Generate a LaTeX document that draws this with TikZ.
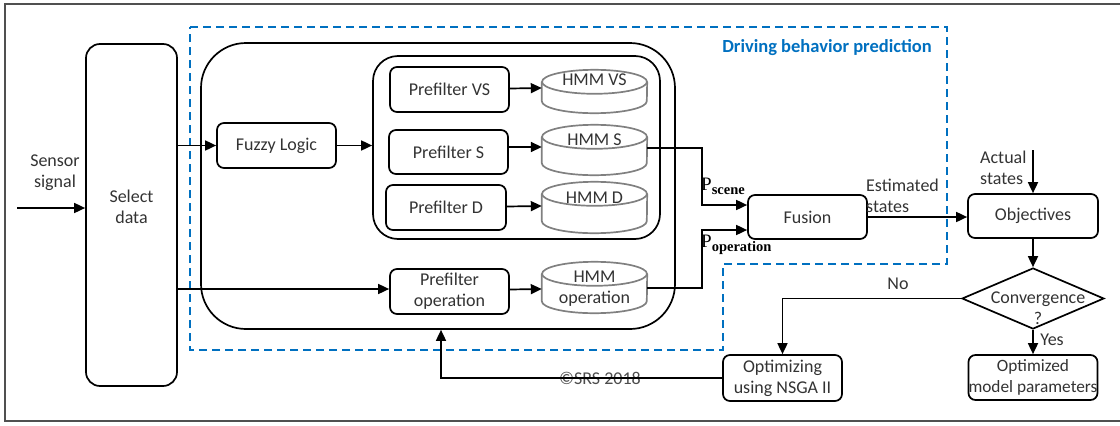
\documentclass[tikz,border=0pt]{standalone}
\usepackage{fontspec}
\setmainfont{Carlito}
\newfontfamily\serf{Liberation Serif}
\usetikzlibrary{arrows.meta,shapes.geometric}
\definecolor{txt}{HTML}{333333}
\definecolor{dashblue}{HTML}{0070C0}
\definecolor{cylgray}{HTML}{808080}
\definecolor{framegray}{HTML}{505050}

% cylinder outline drawn around a named (invisible) node
\newcommand\cylout[1]{%
  \draw[cylline] ([yshift=-12pt]#1.north west) -- ([yshift=12pt]#1.south west)
    arc[start angle=180, end angle=360, x radius=52.5pt, y radius=12pt]
    -- ([yshift=-12pt]#1.north east);
  \draw[cylline] ([yshift=-12pt]#1.north) ellipse[x radius=52.5pt, y radius=12pt];}

\begin{document}
\begin{tikzpicture}[x=1pt, y=-1pt,
  lbl/.style={text=txt, font=\fontsize{18}{21}\selectfont, align=center, inner sep=0},
  box/.style={draw, line width=1.7pt, rounded corners=7pt, inner sep=0, lbl},
  cyl/.style={inner sep=0, lbl},
  cylline/.style={draw=cylgray, line width=1.7pt},
  arr/.style={line width=1.7pt, -{Triangle[length=11pt, width=10pt]}},
  dia/.style={draw, diamond, line width=1.7pt, inner sep=0, minimum width=142pt, minimum height=61pt},
  pl/.style={inner sep=0, anchor=west, text=black}
]
\useasboundingbox (0,0) rectangle (1120,426);

% frame
\draw[framegray, line width=1.5pt] (1120,4) -- (5,4) -- (5,421) -- (1120,421);

% dashed region of the prediction stage
\draw[dashblue, line width=1.6pt, dash pattern=on 8pt off 5pt]
  (190,27) -- (947,27) -- (947,264) -- (723,264) -- (723,350) -- (190,350) -- cycle;
\node[inner sep=0, anchor=east, text=dashblue, font=\fontsize{18.5}{20}\selectfont\bfseries] (title) at (932,48) {Driving behavior prediction};

% containers
\node[draw, line width=1.7pt, rounded corners=45pt, minimum width=474pt, minimum height=286pt, inner sep=0] (outer) at (438,186) {};
\node[draw, line width=1.7pt, rounded corners=25pt, minimum width=287pt, minimum height=183pt, inner sep=0] (inner) at (516.5,147.5) {};

% input
\node[box, rounded corners=14pt, minimum width=91pt, minimum height=342pt] (sel) at (131.5,215) {};
\node[lbl] (seltxt) at (131.5,207) {Select\\data};
\node[lbl] (sensor) at (55,173) {Sensor\\signal};
\coordinate (sin) at (17,208);

% processing boxes
\node[box, minimum width=119pt, minimum height=45pt] (fz) at (276.5,145.5) {Fuzzy Logic};
\node[box, minimum width=119pt, minimum height=45pt] (pvs) at (449.5,89.5) {Prefilter VS};
\node[box, minimum width=119pt, minimum height=44pt] (ps) at (448.5,152) {Prefilter S};
\node[box, minimum width=120pt, minimum height=45pt] (pd) at (446,207.5) {Prefilter D};
\node[box, minimum width=119pt, minimum height=45pt] (pop) at (449.5,291.5) {Prefilter\\operation};

% HMM cylinders
\node[cyl, minimum width=105pt, minimum height=43pt] (hvs) at (594.5,91.5) {};
\node[cyl, minimum width=105pt, minimum height=50pt] (hs) at (594.5,150) {};
\node[cyl, minimum width=105pt, minimum height=51pt] (hd) at (594.5,207.5) {};
\node[cyl, minimum width=105pt, minimum height=51pt] (hop) at (594.5,287.5) {};
\cylout{hvs}\cylout{hs}\cylout{hd}\cylout{hop}
\node[lbl] at (594.5,80) {HMM VS};
\node[lbl] at (594.5,140) {HMM S};
\node[lbl] at (594.5,198) {HMM D};
\node[lbl] at (594.5,289) {HMM\\operation};

% fusion and optimisation loop
\node[box, minimum width=119pt, minimum height=44pt] (fus) at (807.5,217) {Fusion};
\node[box, minimum width=130pt, minimum height=44pt] (obj) at (1033,216) {Objectives};
\node[dia] (conv) at (1033,298.5) {};
\node[lbl] (convtxt) at (1038,308) {Convergence\\?};
\node[box, minimum width=119pt, minimum height=46pt] (nsga) at (782.5,378) {Optimizing\\using NSGA II};
\node[box, minimum width=129pt, minimum height=45pt, font=\fontsize{17.3}{21}\selectfont] (optd) at (1033,377.5) {Optimized\\model parameters};

% labels
\node[pl] (psc) at (701,186) {\serf\fontsize{19}{20}\selectfont P\raisebox{-4pt}{\fontsize{14.5}{16}\selectfont\bfseries scene}};
\node[pl] (pop2) at (701,245) {\serf\fontsize{19}{20}\selectfont P\raisebox{-4pt}{\fontsize{14.5}{16}\selectfont\bfseries operation}};
\node[lbl, anchor=west, align=left] (est) at (866,196) {Estimated\\states};
\node[lbl, anchor=west, align=left] (act) at (980,168) {Actual\\states};
\node[lbl] (no) at (898,284) {No};
\node[lbl] (yes) at (1052,340) {Yes};
\node[lbl, text=black!70] (cr) at (600,378) {©SRS 2018};

% connectors
\coordinate (j) at (702,0);
\coordinate (fin1) at ([yshift=12pt]fus.west);
\coordinate (fin2) at ([yshift=-13pt]fus.west);
\coordinate (actin) at (1033,150);

\draw[arr] (sin) -- (sel.west |- sin);
\draw[arr] (sel.east |- fz.west) -- (fz.west);
\draw[arr] (fz.east) -- (inner.west |- fz.east);
\draw[arr] ([yshift=1pt]pvs.east) -- (hvs.west |- 0,88);
\draw[arr] ([yshift=5pt]ps.east) -- (hs.west |- 0,147);
\draw[arr] ([yshift=1pt]pd.east) -- (hd.west |- 0,206);
\draw[arr] (sel.east |- 0,289) -- (pop.west |- 0,289);
\draw[arr] ([yshift=2pt]pop.east) -- (hop.west |- 0,289);
\draw[arr] (hs.east |- 0,148) -- (j |- 0,148) -- (j |- fin1) -- (fin1);
\draw[arr] (hop.east |- 0,288) -- (j |- 0,288) -- (j |- fin2) -- (fin2);
\draw[arr] (fus.east) -- (obj.west |- fus.east);
\draw[arr] (actin) -- (obj.north);
\draw[arr] (obj.south) -- (conv.north);
\draw[arr] (conv.south) -- (optd.north);
\draw[arr] (conv.west) -| (nsga.north);
\draw[arr] (nsga.west) -| ([xshift=3pt]outer.south);
\end{tikzpicture}
\end{document}
